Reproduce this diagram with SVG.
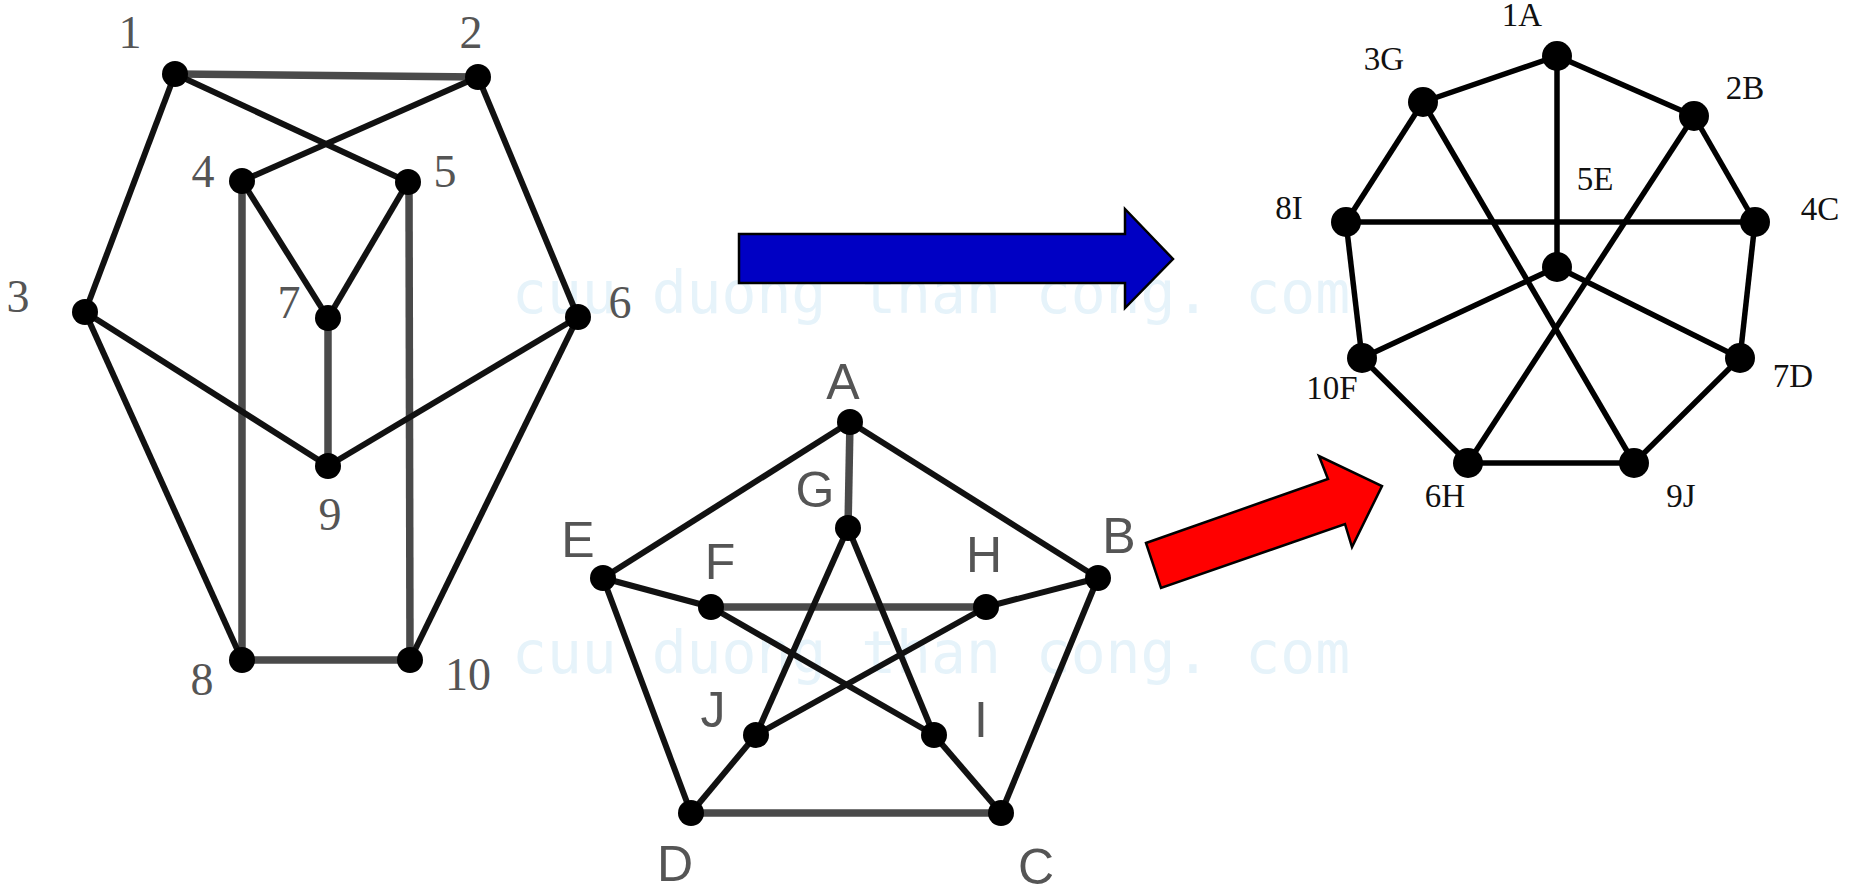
<svg xmlns="http://www.w3.org/2000/svg" width="1855" height="893" viewBox="0 0 1855 893">
<style>
.wm{font-family:"DejaVu Sans Mono","Liberation Mono",monospace;font-size:58px;fill:#e6f3fa}
.ax{stroke:#4a4a4a;stroke-width:7.5;fill:none}
.dg{stroke:#111;stroke-width:6;fill:none}
.rl{stroke:#000;stroke-width:5.5;fill:none}
.nd{fill:#000}
.lt{font-family:"Liberation Serif",serif;font-size:46px;fill:#555;text-anchor:middle}
.mt{font-family:"Liberation Sans",sans-serif;font-size:50px;fill:#555;text-anchor:middle}
.rt{font-family:"Liberation Serif",serif;font-size:33px;fill:#111;text-anchor:middle}
.arr{stroke:#000;stroke-width:2.5;stroke-linejoin:miter}
</style>
<rect width="1855" height="893" fill="#fff"/>
<text class="wm" x="512" y="313">cuu duong than cong. com</text>
<text class="wm" x="512" y="673">cuu duong than cong. com</text>

<g id="connectors">
  <!-- left graph -->
  <line class="ax" x1="175" y1="74" x2="478" y2="77"/>
  <line class="dg" x1="175" y1="74" x2="408" y2="182"/>
  <line class="dg" x1="478" y1="77" x2="242" y2="181"/>
  <line class="dg" x1="175" y1="74" x2="85" y2="312"/>
  <line class="dg" x1="478" y1="77" x2="578" y2="317"/>
  <line class="dg" x1="242" y1="181" x2="328" y2="318"/>
  <line class="dg" x1="408" y1="182" x2="328" y2="318"/>
  <line class="ax" x1="242" y1="181" x2="242" y2="660"/>
  <line class="ax" x1="409" y1="182" x2="410" y2="660"/>
  <line class="ax" x1="328" y1="318" x2="328" y2="466"/>
  <line class="dg" x1="85" y1="312" x2="328" y2="466"/>
  <line class="dg" x1="578" y1="317" x2="328" y2="466"/>
  <line class="dg" x1="85" y1="312" x2="242" y2="660"/>
  <line class="dg" x1="578" y1="317" x2="410" y2="660"/>
  <line class="ax" x1="242" y1="660" x2="410" y2="660"/>
  <!-- middle graph -->
  <line class="dg" x1="850" y1="422" x2="603" y2="578"/>
  <line class="dg" x1="850" y1="422" x2="1098" y2="578"/>
  <line class="ax" x1="850" y1="422" x2="848" y2="528"/>
  <line class="dg" x1="603" y1="578" x2="691" y2="813"/>
  <line class="dg" x1="1098" y1="578" x2="1001" y2="813"/>
  <line class="ax" x1="691" y1="813" x2="1001" y2="813"/>
  <line class="dg" x1="603" y1="578" x2="711" y2="607"/>
  <line class="dg" x1="1098" y1="578" x2="986" y2="607"/>
  <line class="dg" x1="1001" y1="813" x2="934" y2="735"/>
  <line class="dg" x1="691" y1="813" x2="756" y2="735"/>
  <line class="ax" x1="711" y1="607" x2="986" y2="607"/>
  <line class="dg" x1="711" y1="607" x2="934" y2="735"/>
  <line class="dg" x1="986" y1="607" x2="756" y2="735"/>
  <line class="dg" x1="848" y1="528" x2="756" y2="735"/>
  <line class="dg" x1="848" y1="528" x2="934" y2="735"/>
  <!-- right graph -->
  <line class="rl" x1="1557" y1="56" x2="1423" y2="102"/>
  <line class="rl" x1="1557" y1="56" x2="1694" y2="116"/>
  <line class="rl" x1="1557" y1="56" x2="1557" y2="267"/>
  <line class="rl" x1="1423" y1="102" x2="1346" y2="222"/>
  <line class="rl" x1="1423" y1="102" x2="1634" y2="463"/>
  <line class="rl" x1="1694" y1="116" x2="1755" y2="222"/>
  <line class="rl" x1="1694" y1="116" x2="1468" y2="463"/>
  <line class="rl" x1="1346" y1="222" x2="1755" y2="222"/>
  <line class="rl" x1="1346" y1="222" x2="1362" y2="358"/>
  <line class="rl" x1="1755" y1="222" x2="1740" y2="358"/>
  <line class="rl" x1="1557" y1="267" x2="1362" y2="358"/>
  <line class="rl" x1="1557" y1="267" x2="1740" y2="358"/>
  <line class="rl" x1="1362" y1="358" x2="1468" y2="463"/>
  <line class="rl" x1="1740" y1="358" x2="1634" y2="463"/>
  <line class="rl" x1="1468" y1="463" x2="1634" y2="463"/>
  <!-- arrows -->
  <polygon class="arr" fill="#0000c4" points="739,234 1125,234 1125,209 1173,259 1125,308 1125,283 739,283"/>
  <polygon class="arr" fill="#ff0000" points="1146,543 1328,479 1319,456 1382,486 1352,547 1345,524 1161,588"/>
</g>

<!-- left graph nodes -->
<g id="n1"><circle class="nd" cx="175" cy="74" r="13"/><text class="lt" x="130" y="48">1</text></g>
<g id="n2"><circle class="nd" cx="478" cy="77" r="13"/><text class="lt" x="471" y="48">2</text></g>
<g id="n3"><circle class="nd" cx="85" cy="312" r="13"/><text class="lt" x="18" y="312">3</text></g>
<g id="n4"><circle class="nd" cx="242" cy="181" r="13"/><text class="lt" x="203" y="187">4</text></g>
<g id="n5"><circle class="nd" cx="408" cy="182" r="13"/><text class="lt" x="445" y="187">5</text></g>
<g id="n6"><circle class="nd" cx="578" cy="317" r="13"/><text class="lt" x="620" y="318">6</text></g>
<g id="n7"><circle class="nd" cx="328" cy="318" r="13"/><text class="lt" x="289" y="318">7</text></g>
<g id="n8"><circle class="nd" cx="242" cy="660" r="13"/><text class="lt" x="202" y="695">8</text></g>
<g id="n9"><circle class="nd" cx="328" cy="466" r="13"/><text class="lt" x="330" y="530">9</text></g>
<g id="n10"><circle class="nd" cx="410" cy="660" r="13"/><text class="lt" x="468" y="690">10</text></g>

<!-- middle graph nodes -->
<g id="nA"><circle class="nd" cx="850" cy="422" r="13"/><text class="mt" x="843" y="399">A</text></g>
<g id="nB"><circle class="nd" cx="1098" cy="578" r="13"/><text class="mt" x="1119" y="553">B</text></g>
<g id="nC"><circle class="nd" cx="1001" cy="813" r="13"/><text class="mt" x="1036" y="884">C</text></g>
<g id="nD"><circle class="nd" cx="691" cy="813" r="13"/><text class="mt" x="675" y="881">D</text></g>
<g id="nE"><circle class="nd" cx="603" cy="578" r="13"/><text class="mt" x="578" y="557">E</text></g>
<g id="nF"><circle class="nd" cx="711" cy="607" r="13"/><text class="mt" x="720" y="579">F</text></g>
<g id="nG"><circle class="nd" cx="848" cy="528" r="13"/><text class="mt" x="815" y="507">G</text></g>
<g id="nH"><circle class="nd" cx="986" cy="607" r="13"/><text class="mt" x="984" y="572">H</text></g>
<g id="nI"><circle class="nd" cx="934" cy="735" r="13"/><text class="mt" x="981" y="737">I</text></g>
<g id="nJ"><circle class="nd" cx="756" cy="735" r="13"/><text class="mt" x="713" y="727">J</text></g>

<!-- right graph nodes -->
<g id="n1A"><circle class="nd" cx="1557" cy="56" r="15"/><text class="rt" x="1522" y="26">1A</text></g>
<g id="n2B"><circle class="nd" cx="1694" cy="116" r="15"/><text class="rt" x="1745" y="99">2B</text></g>
<g id="n3G"><circle class="nd" cx="1423" cy="102" r="15"/><text class="rt" x="1384" y="70">3G</text></g>
<g id="n4C"><circle class="nd" cx="1755" cy="222" r="15"/><text class="rt" x="1820" y="220">4C</text></g>
<g id="n5E"><circle class="nd" cx="1557" cy="267" r="15"/><text class="rt" x="1595" y="190">5E</text></g>
<g id="n6H"><circle class="nd" cx="1468" cy="463" r="15"/><text class="rt" x="1445" y="507">6H</text></g>
<g id="n7D"><circle class="nd" cx="1740" cy="358" r="15"/><text class="rt" x="1793" y="387">7D</text></g>
<g id="n8I"><circle class="nd" cx="1346" cy="222" r="15"/><text class="rt" x="1289" y="219">8I</text></g>
<g id="n9J"><circle class="nd" cx="1634" cy="463" r="15"/><text class="rt" x="1681" y="507">9J</text></g>
<g id="n10F"><circle class="nd" cx="1362" cy="358" r="15"/><text class="rt" x="1332" y="399">10F</text></g>
</svg>
